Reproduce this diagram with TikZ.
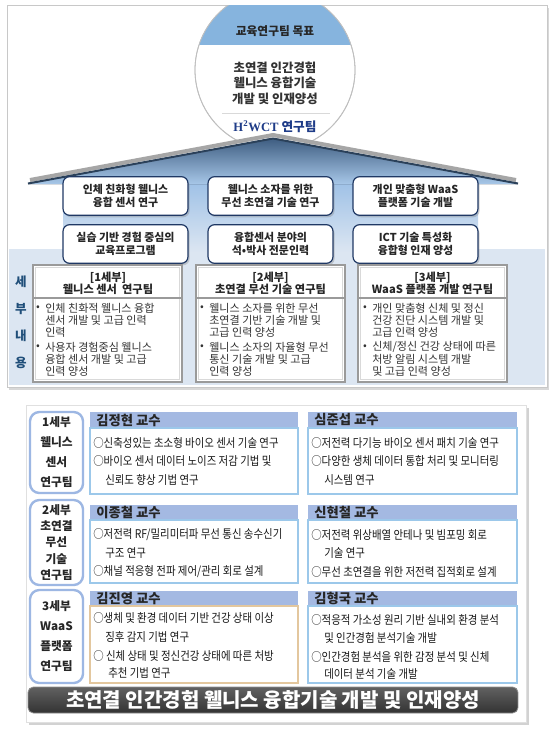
\documentclass[tikz,border=0pt]{standalone}
\usepackage{fontspec}
\setmainfont{Noto Sans CJK KR}
\newfontfamily\krc{Noto Sans CJK KR}[FakeStretch=0.87]
\newfontfamily\serifb{Liberation Serif}
\usetikzlibrary{shadows}
\definecolor{capblue}{HTML}{86B4DE}
\definecolor{navy}{HTML}{1F3864}
\definecolor{hblue}{HTML}{1F3C88}
\definecolor{roofdark}{HTML}{3D5C80}
\definecolor{rooflight}{HTML}{A7C7E8}
\definecolor{bodyblue}{HTML}{9DC0E6}
\definecolor{band}{HTML}{DCE6F2}
\definecolor{sebuc}{HTML}{1F4E79}
\definecolor{detgray}{HTML}{9A9A9A}
\definecolor{dettext}{HTML}{333333}
\definecolor{hdr}{HTML}{A4B9E2}
\definecolor{bodyline}{HTML}{9CC8EA}
\definecolor{tanline}{HTML}{E3C79E}
\definecolor{lblline}{HTML}{9DB7E3}
\definecolor{framec}{HTML}{C8C8C8}
\begin{document}
\begin{tikzpicture}[x=0.75pt,y=-0.75pt,
  T/.style={inner sep=0pt, text=black!85},
  upbox/.style={draw=navy, line width=0.9pt, rounded corners=5pt, fill=white,
     minimum width=93.75pt, minimum height=29pt, align=center, inner sep=1pt,
     font=\fontsize{8.2}{10}\selectfont\bfseries, text=black!85,
     drop shadow={shadow xshift=1.2pt, shadow yshift=-1.5pt, opacity=0.35}},
  dethead/.style={inner sep=0pt, align=center, font=\fontsize{8.4}{9}\selectfont\bfseries, text=black!85},
  dettxt/.style={inner sep=0pt, anchor=west, font=\fontsize{8.3}{9}\selectfont, text=dettext},
  bul/.style={inner sep=0pt, font=\fontsize{8.3}{9}\selectfont, text=dettext},
  lbl/.style={draw=lblline, line width=1.8pt, rounded corners=7pt, fill=white, minimum width=39.75pt,
     align=center, inner sep=0pt, text=black!85},
  prof/.style={inner sep=0pt, anchor=west, font=\fontsize{10}{11}\selectfont\bfseries, text=black!85},
  item/.style={inner sep=0pt, anchor=west, font=\krc\fontsize{9}{10}\selectfont, text=black!90},
  sebu/.style={inner sep=0pt, font=\fontsize{9.4}{10}\selectfont\bfseries, text=sebuc},
]
\useasboundingbox (0,0) rectangle (556,729);
\fill[white] (0,0) rectangle (556,729);

% ---------- top panel ----------
\path[fill=white, draw=framec, line width=0.5pt,
  drop shadow={shadow xshift=1.5pt, shadow yshift=-2pt, opacity=0.3}] (7,5) rectangle (547,387);
\fill[band] (9,249) rectangle (545,385);
\fill[top color=bodyblue, bottom color=band] (63,180) rectangle (478,252);

% circle
\begin{scope}
\clip (0,5.5) rectangle (556,200);
\path[fill=white, draw=black!25, line width=0.6pt] (275,70) circle (60pt);
\clip (275,70) circle (60pt);
\fill[capblue] (150,0) rectangle (400,45);
\end{scope}
\begin{scope}
\clip (0,5.5) rectangle (556,200);
\draw[black!25, line width=0.6pt] (275,70) circle (60pt);
\end{scope}
\node[T, font=\fontsize{8.8}{10}\selectfont\bfseries] (goal) at (275,31) {교육연구팀 목표};
\node[T, align=center, font=\fontsize{9.3}{11.6}\selectfont\bfseries, text=black!80] (goaltxt) at (275,83)
  {초연결 인간경험\\웰니스 융합기술\\개발 및 인재양성};
\draw[black!15] (222,113) -- (330,113);
\node[T, text=hblue, font=\fontsize{9.5}{10}\selectfont\bfseries] (team) at (275,127)
  {{\serifb\bfseries H\textsuperscript{2}WCT} 연구팀};

% roof
\draw[black!35, line width=3pt] (30,180) -- (273,135) -- (516,180);
\fill[top color=roofdark, bottom color=rooflight] (28,184) -- (273,138) -- (518,184) -- cycle;
\draw[roofdark!70!black, line width=1.5pt, line join=miter] (28,183.5) -- (273,138.5) -- (518,183.5);

% upper boxes
\node[upbox] (u1) at (125.5,196) {인체 친화형 웰니스\\융합 센서 연구};
\node[upbox] (u2) at (270.5,196) {웰니스 소자를 위한\\무선 초연결 기술 연구};
\node[upbox] (u3) at (415.5,196) {개인 맞춤형 WaaS\\플랫폼 기술 개발};
\node[upbox] (u4) at (125.5,244) {실습 기반 경험 중심의\\교육프로그램};
\node[upbox] (u5) at (270.5,244) {융합센서 분야의\\석•박사 전문인력};
\node[upbox] (u6) at (415.5,244) {ICT 기술 특성화\\융합형 인재 양성};

% sebu naeyong
\node[sebu] (s1) at (21,282) {세};
\node[sebu] (s2) at (21,309) {부};
\node[sebu] (s3) at (21,336) {내};
\node[sebu] (s4) at (21,363) {용};

% detail boxes
\foreach \x in {33,196,358}{
  \path[fill=white, draw=detgray, line width=1.3pt,
    drop shadow={shadow xshift=1pt, shadow yshift=-1pt, opacity=0.25}] (\x,265) rectangle ++(149,117);
  \draw[black!15, line width=0.5pt] (\x+2.5,267.5) rectangle ++(144,112);
  \draw[detgray, line width=0.9pt] (\x,298) -- ++(149,0);
}
\node[dethead] (dh1) at (108,283) {[1세부]\\웰니스 센서\ \ 연구팀};
\node[dethead] (dh2) at (270.5,283) {[2세부]\\초연결 무선 기술 연구팀};
\node[dethead] (dh3) at (432.5,283) {[3세부]\\WaaS 플랫폼 개발 연구팀};

\node[bul] (b1a) at (38,308) {•};
\node[dettxt] (t1a) at (45,308) {인체 친화적 웰니스 융합};
\node[dettxt] (t1b) at (45,320) {센서 개발 및 고급 인력};
\node[dettxt] (t1c) at (45,332) {인력};
\node[bul] (b1b) at (38,347) {•};
\node[dettxt] (t1d) at (45,347) {사용자 경험중심 웰니스};
\node[dettxt] (t1e) at (45,359) {융합 센서 개발 및 고급};
\node[dettxt] (t1f) at (45,371) {인력 양성};

\node[bul] (b2a) at (202,308) {•};
\node[dettxt] (t2a) at (209,308) {웰니스 소자를 위한 무선};
\node[dettxt] (t2b) at (209,320) {초연결 기반 기술 개발 및};
\node[dettxt] (t2c) at (209,332) {고급 인력 양성};
\node[bul] (b2b) at (202,347) {•};
\node[dettxt] (t2d) at (209,347) {웰니스 소자의 자율형 무선};
\node[dettxt] (t2e) at (209,359) {통신 기술 개발 및 고급};
\node[dettxt] (t2f) at (209,371) {인력 양성};

\node[bul] (b3a) at (365,308) {•};
\node[dettxt] (t3a) at (372,308) {개인 맞춤형 신체 및 정신};
\node[dettxt] (t3b) at (372,320) {건강 진단 시스템 개발 및};
\node[dettxt] (t3c) at (372,332) {고급 인력 양성};
\node[bul] (b3b) at (365,347) {•};
\node[dettxt] (t3d) at (372,347) {신체/정신 건강 상태에 따른};
\node[dettxt] (t3e) at (372,359) {처방 알림 시스템 개발};
\node[dettxt] (t3f) at (372,371) {및 고급 인력 양성};

% ---------- bottom panel ----------
\path[fill=white, draw=black!12, line width=0.5pt,
  drop shadow={shadow xshift=2pt, shadow yshift=-2pt, opacity=0.35}] (26,405) rectangle (526,722);

\node[lbl, minimum height=60.75pt, font=\fontsize{8.8}{15}\selectfont\bfseries] (g1) at (56.5,452.5)
  {1세부\\웰니스\\센서\\연구팀};
\node[lbl, minimum height=63.75pt, font=\fontsize{8.8}{12.2}\selectfont\bfseries] (g2) at (56.5,542.5)
  {2세부\\초연결\\무선\\기술\\연구팀};
\node[lbl, minimum height=69.75pt, font=\fontsize{8.8}{15}\selectfont\bfseries] (g3) at (56.5,636.5)
  {3세부\\WaaS\\플랫폼\\연구팀};

% headers and bodies
\fill[hdr] (90,412) rectangle (298,428);
\fill[hdr] (308,412) rectangle (517,428);
\draw[bodyline, line width=0.8pt] (90,428) rectangle (298,494);
\draw[bodyline, line width=0.8pt] (308,428) rectangle (517,494);
\fill[hdr] (90,505) rectangle (298,520);
\fill[hdr] (308,505) rectangle (517,520);
\draw[bodyline, line width=0.8pt] (90,520) rectangle (298,583);
\draw[bodyline, line width=0.8pt] (308,520) rectangle (517,583);
\fill[hdr] (90,591) rectangle (298,606);
\fill[hdr] (308,591) rectangle (517,606);
\draw[tanline, line width=0.8pt] (90,606) rectangle (298,683);
\draw[bodyline, line width=0.8pt] (308,606) rectangle (517,683);

\node[prof] (p1) at (96,420) {김정현 교수};
\node[prof] (p2) at (314,420) {심준섭 교수};
\node[prof] (p3) at (96,512.5) {이종철 교수};
\node[prof] (p4) at (314,512.5) {신현철 교수};
\node[prof] (p5) at (96,598.5) {김진영 교수};
\node[prof] (p6) at (314,598.5) {김형국 교수};

\node[item] (i1a) at (93,443) {○신축성있는 초소형 바이오 센서 기술 연구};
\node[item] (i1b) at (93,461) {○바이오 센서 데이터 노이즈 저감 기법 및};
\node[item] (i1c) at (105,480) {신뢰도 향상 기법 연구};
\node[item] (i2a) at (311,443) {○저전력 다기능 바이오 센서 패치 기술 연구};
\node[item] (i2b) at (311,461) {○다양한 생체 데이터 통합 처리 및 모니터링};
\node[item] (i2c) at (324,480) {시스템 연구};

\node[item] (i3a) at (93,535) {○저전력 RF/밀리미터파 무선 통신 송수신기};
\node[item] (i3b) at (105,553) {구조 연구};
\node[item] (i3c) at (93,572) {○채널 적응형 전파 제어/관리 회로 설계};
\node[item] (i4a) at (311,535) {○저전력 위상배열 안테나 및 빔포밍 회로};
\node[item] (i4b) at (324,553) {기술 연구};
\node[item] (i4c) at (311,572) {○무선 초연결을 위한 저전력 집적회로 설계};

\node[item] (i5a) at (93,618) {○생체 및 환경 데이터 기반 건강 상태 이상};
\node[item] (i5b) at (105,637) {징후 감지 기법 연구};
\node[item] (i5c) at (93,656) {○ 신체 상태 및 정신건강 상태에 따른 처방};
\node[item] (i5d) at (108,673) {추천 기법 연구};
\node[item] (i6a) at (311,620) {○적응적 가소성 원리 기반 실내외 환경 분석};
\node[item] (i6b) at (324,638) {및 인간경험 분석기술 개발};
\node[item] (i6c) at (311,657) {○인간경험 분석을 위한 감정 분석 및 신체};
\node[item] (i6d) at (324,674) {데이터 분석 기술 개발};

% banner
\node[rounded corners=4pt, minimum width=367.5pt, minimum height=19.5pt, inner sep=0pt,
  top color=black!62, bottom color=black!80, draw=black!45, line width=0.6pt,
  text=white, font=\fontsize{15}{16}\selectfont\bfseries] (banner) at (273,700)
  {초연결 인간경험 웰니스 융합기술 개발 및 인재양성};
\end{tikzpicture}
\end{document}
